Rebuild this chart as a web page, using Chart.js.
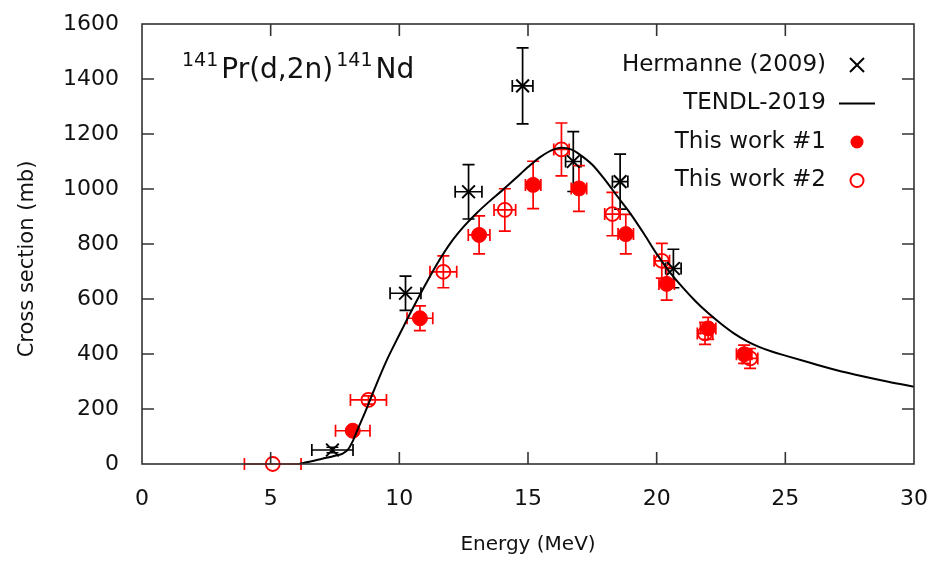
<!DOCTYPE html>
<html>
<head>
<meta charset="utf-8">
<script src="https://cdn.jsdelivr.net/npm/chart.js@4.4.1/dist/chart.umd.min.js"></script>
<style>
  body { margin: 0; background: #fff; }
  canvas { display: block; }
</style>
</head>
<body>
<canvas id="xsChart" width="936" height="561"></canvas>
<script>
const FONT = '"DejaVu Sans", Verdana, sans-serif';
const RED = '#ff0000';
const INK = '#111111';

// Hermanne (2009)
const hermE = [7.4, 10.24, 12.69, 14.79, 16.76, 18.58, 20.65];
const hermDE = [0.8, 0.6, 0.52, 0.4, 0.3, 0.3, 0.3];
const hermXS = [51, 621, 990, 1375, 1100, 1027, 711];
const hermDXS = [10, 62, 99, 138, 109, 100, 70];

// TENDL-2019
const tendlE = [6.1, 6.5, 7.0, 7.5, 7.8, 8.0, 8.2, 8.4, 8.7, 9.0, 9.5, 10.0, 10.5, 11.0, 11.5, 12.0, 12.5,
  13.0, 13.5, 14.0, 14.5, 15.0, 15.5, 16.0, 16.3, 16.7, 17.0, 17.5, 18.0, 18.5, 19.0, 19.5,
  20.0, 20.5, 21.0, 21.5, 22.0, 22.5, 23.0, 23.5, 24.0, 24.5, 25.0, 26.0, 27.0, 28.0, 29.0, 30.0];
const tendlXS = [0, 8, 19, 30, 38, 52, 85, 130, 195, 265, 375, 470, 562, 650, 733, 805, 863,
  912, 955, 995, 1037, 1080, 1118, 1144, 1150, 1143, 1126, 1088, 1032, 970, 908, 838,
  764, 699, 643, 593, 549, 510, 475, 447, 425, 408, 394, 367, 341, 319, 299, 281];

// This work #1
const w1E = [8.19, 10.8, 13.1, 15.2, 16.98, 18.8, 20.39, 22.0, 23.4];
const w1DE = [0.67, 0.5, 0.42, 0.3, 0.3, 0.3, 0.3, 0.3, 0.3];
const w1XS = [121, 530, 833, 1015, 1002, 836, 655, 493, 399];
const w1DXS = [12, 45, 69, 86, 83, 72, 59, 40, 33];

// This work #2
const w2E = [5.08, 8.8, 11.71, 14.1, 16.3, 18.28, 20.2, 21.88, 23.63];
const w2DE = [1.1, 0.7, 0.52, 0.42, 0.3, 0.3, 0.3, 0.3, 0.3];
const w2XS = [0, 233, 699, 924, 1144, 909, 739, 475, 384];
const w2DXS = [0, 15, 58, 77, 96, 79, 63, 40, 36];

const xTicks = [0, 5, 10, 15, 20, 25, 30];
const yTicks = [0, 200, 400, 600, 800, 1000, 1200, 1400, 1600];
const yTitle = 'Cross section (mb)';

function pts(xs, ys) {
  return xs.map((x, i) => ({ x: x, y: ys[i] }));
}

// error bars, drawn under the markers
const errorBars = {
  id: 'errorBars',
  beforeDatasetsDraw(chart) {
    const { ctx, scales: { x, y } } = chart;
    const cap = 6;
    ctx.save();
    chart.data.datasets.forEach(ds => {
      if (!ds.errX) return;
      ctx.strokeStyle = ds.borderColor;
      ctx.lineWidth = 1.7;
      ds.data.forEach((p, i) => {
        const px = x.getPixelForValue(p.x);
        const py = y.getPixelForValue(p.y);
        const x0 = x.getPixelForValue(p.x - ds.errX[i]);
        const x1 = x.getPixelForValue(p.x + ds.errX[i]);
        const y0 = y.getPixelForValue(p.y - ds.errY[i]);
        const y1 = y.getPixelForValue(p.y + ds.errY[i]);
        ctx.beginPath();
        ctx.moveTo(x0, py); ctx.lineTo(x1, py);
        ctx.moveTo(x0, py - cap); ctx.lineTo(x0, py + cap);
        ctx.moveTo(x1, py - cap); ctx.lineTo(x1, py + cap);
        if (ds.errY[i] > 0) {
          ctx.moveTo(px, y0); ctx.lineTo(px, y1);
          ctx.moveTo(px - cap, y0); ctx.lineTo(px + cap, y0);
          ctx.moveTo(px - cap, y1); ctx.lineTo(px + cap, y1);
        }
        ctx.stroke();
      });
    });
    ctx.restore();
  }
};

// box frame with inward ticks on all four sides
const frame = {
  id: 'frame',
  afterDatasetsDraw(chart) {
    const { ctx, chartArea: a, scales: { x, y } } = chart;
    const tl = 12;
    ctx.save();
    ctx.strokeStyle = '#333';
    ctx.lineWidth = 1.6;
    ctx.strokeRect(a.left, a.top, a.right - a.left, a.bottom - a.top);
    ctx.beginPath();
    xTicks.slice(1, -1).forEach(v => {
      const px = x.getPixelForValue(v);
      ctx.moveTo(px, a.bottom); ctx.lineTo(px, a.bottom - tl);
      ctx.moveTo(px, a.top); ctx.lineTo(px, a.top + tl);
    });
    yTicks.slice(1, -1).forEach(v => {
      const py = y.getPixelForValue(v);
      ctx.moveTo(a.left, py); ctx.lineTo(a.left + tl, py);
      ctx.moveTo(a.right, py); ctx.lineTo(a.right - tl, py);
    });
    ctx.stroke();
    ctx.restore();
  }
};

// reaction label, y title and legend
const annotations = {
  id: 'annotations',
  afterDraw(chart) {
    const { ctx } = chart;
    ctx.save();
    ctx.fillStyle = INK;
    ctx.textBaseline = 'alphabetic';
    // 141Pr(d,2n)141Nd
    let tx = 182;
    const parts = [['141', 19, -12], ['Pr(d,2n)', 28, 0], ['141', 19, -12], ['Nd', 28, 0]];
    parts.forEach(([s, size, dy]) => {
      ctx.font = size + 'px ' + FONT;
      ctx.fillText(s, tx, 78 + dy);
      tx += ctx.measureText(s).width + 3;
    });

    // y axis title (sits a bit below the plot centre in the original)
    ctx.save();
    ctx.translate(28, 259);
    ctx.rotate(-Math.PI / 2);
    ctx.font = '21px ' + FONT;
    ctx.textAlign = 'center';
    ctx.textBaseline = 'middle';
    ctx.fillText(yTitle, 0, 0);
    ctx.restore();

    // legend: text right aligned, marker on the right
    ctx.font = '23px ' + FONT;
    ctx.textAlign = 'right';
    ctx.textBaseline = 'middle';
    const textRight = 826;
    const mx = 857;
    chart.data.datasets.forEach((ds, i) => {
      const cy = 65 + i * 38.5;
      ctx.fillStyle = INK;
      ctx.fillText(ds.label, textRight, cy);
      ctx.strokeStyle = ds.borderColor;
      ctx.lineWidth = 2;
      ctx.beginPath();
      if (ds.legendKind === 'cross') {
        ctx.moveTo(mx - 7, cy - 7); ctx.lineTo(mx + 7, cy + 7);
        ctx.moveTo(mx + 7, cy - 7); ctx.lineTo(mx - 7, cy + 7);
        ctx.stroke();
      } else if (ds.legendKind === 'line') {
        ctx.moveTo(mx - 18, cy); ctx.lineTo(mx + 18, cy);
        ctx.stroke();
      } else {
        ctx.arc(mx, cy, 6.5, 0, Math.PI * 2);
        if (ds.legendKind === 'filled') {
          ctx.fillStyle = RED;
          ctx.fill();
        } else {
          ctx.stroke();
        }
      }
    });
    ctx.restore();
  }
};

const ctx = document.getElementById('xsChart').getContext('2d');
new Chart(ctx, {
  type: 'scatter',
  data: {
    datasets: [
      {
        label: 'Hermanne (2009)', legendKind: 'cross',
        data: pts(hermE, hermXS), errX: hermDE, errY: hermDXS,
        pointStyle: 'crossRot', pointRadius: 9, borderColor: '#000', borderWidth: 2,
        backgroundColor: '#000', clip: false
      },
      {
        label: 'TENDL-2019', legendKind: 'line',
        data: pts(tendlE, tendlXS), showLine: true, pointRadius: 0,
        borderColor: '#000', borderWidth: 2, cubicInterpolationMode: 'monotone'
      },
      {
        label: 'This work #1', legendKind: 'filled',
        data: pts(w1E, w1XS), errX: w1DE, errY: w1DXS,
        pointStyle: 'circle', pointRadius: 7.5, borderColor: RED, backgroundColor: RED,
        borderWidth: 1, clip: false
      },
      {
        label: 'This work #2', legendKind: 'open',
        data: pts(w2E, w2XS), errX: w2DE, errY: w2DXS,
        pointStyle: 'circle', pointRadius: 7, borderColor: RED, backgroundColor: 'rgba(0,0,0,0)',
        borderWidth: 1.8, clip: false
      }
    ]
  },
  options: {
    responsive: false,
    animation: false,
    events: [],
    layout: { padding: { top: 24, right: 22, left: 0, bottom: 0 } },
    plugins: { legend: { display: false }, tooltip: { enabled: false } },
    scales: {
      x: {
        type: 'linear', min: 0, max: 30,
        afterBuildTicks: s => { s.ticks = xTicks.map(v => ({ value: v })); },
        afterFit: s => { s.height = 97; s.paddingLeft = 0; s.paddingRight = 0; },
        grid: { display: false }, border: { display: false },
        ticks: { color: INK, font: { family: FONT, size: 22 }, padding: 14, callback: v => String(v) },
        title: { display: true, text: 'Energy (MeV)', color: INK, font: { family: FONT, size: 20 }, padding: { top: 0, bottom: 4 } }
      },
      y: {
        type: 'linear', min: 0, max: 1600,
        afterBuildTicks: s => { s.ticks = yTicks.map(v => ({ value: v })); },
        afterFit: s => { s.width = 142; s.paddingTop = 0; s.paddingBottom = 0; },
        grid: { display: false }, border: { display: false },
        ticks: { color: INK, font: { family: FONT, size: 22 }, padding: 15, callback: v => String(v) },
        title: { display: false }
      }
    }
  },
  plugins: [errorBars, frame, annotations]
});
</script>
</body>
</html>
